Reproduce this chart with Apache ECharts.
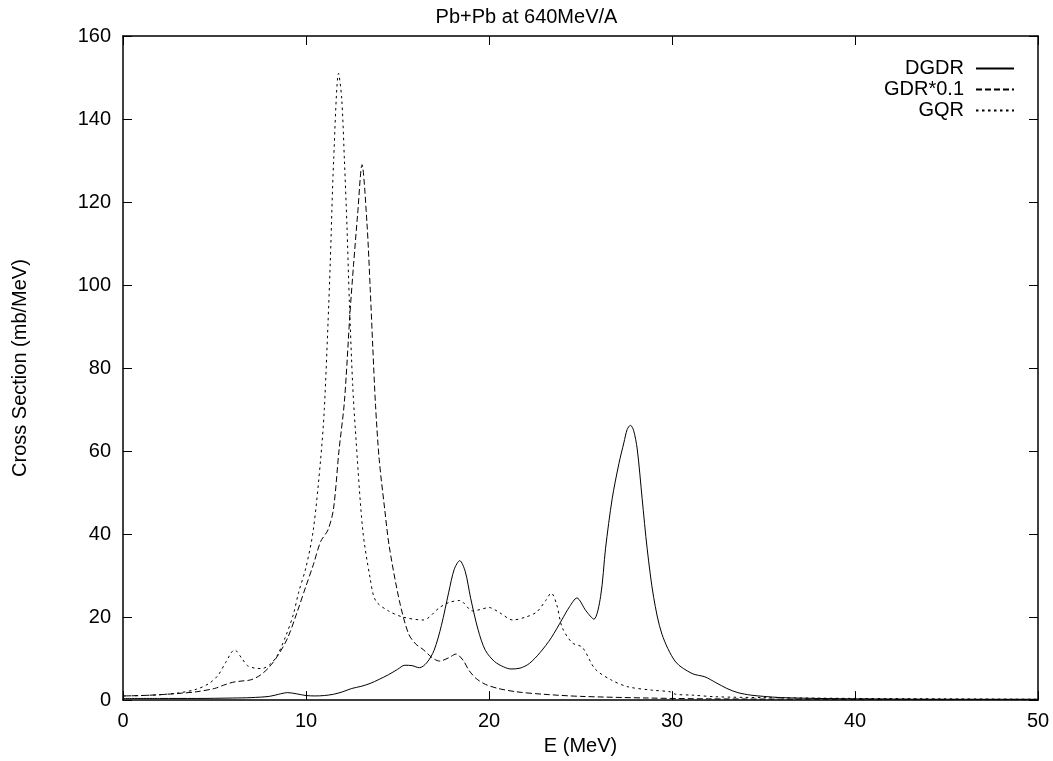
<!DOCTYPE html>
<html>
<head>
<meta charset="utf-8">
<script src="https://cdn.jsdelivr.net/npm/echarts@6/dist/echarts.min.js"></script>
<style>
html,body{margin:0;padding:0;background:#fff;}
#chart{width:1053px;height:761px;}
</style>
</head>
<body>
<div id="chart"></div>
<script>
var titleText = 'Pb+Pb at 640MeV/A';
var xName = 'E (MeV)';
var yName = 'Cross Section (mb/MeV)';
var seriesNames = ['DGDR', 'GDR*0.1', 'GQR'];

var dgdrE = [0,2,4,6,7,8,8.5,9,9.5,10,10.5,11,11.5,12,12.5,13,13.5,14,14.5,15,15.4,15.8,16.2,16.6,17,17.4,17.8,18.1,18.4,18.7,19,19.4,19.8,20.3,20.8,21.2,21.7,22.2,22.8,23.4,24,24.4,24.8,25.3,25.73,26.1,26.37,26.73,27.1,27.37,27.55,27.73,27.9,28.1,28.37,28.64,29.0,29.45,30.2,31.1,31.8,32.4,33,33.6,34.3,35,36,38,40,45,50];
var dgdrV = [0.4,0.4,0.4,0.5,0.6,0.9,1.4,1.8,1.5,1.1,1.0,1.1,1.4,2.0,2.8,3.3,4.0,5.0,6.1,7.4,8.4,8.3,7.8,9.0,12,18,26,31.5,33.6,31,24.5,17,12,9.3,8.0,7.5,7.7,8.8,11.5,15,19.5,22.5,24.6,21.5,19.5,25,36.6,48.5,57,62,65.2,66.2,65,60.5,48.5,36.6,24.7,15.9,9.2,6.4,5.6,4.2,2.8,1.8,1.2,0.9,0.6,0.4,0.3,0.2,0.2];

var gdrE = [0,1,2,3,4,5,5.5,6,6.5,7,7.5,8,8.5,9,9.5,10,10.4,10.8,11.2,11.5,11.8,12.1,12.4,12.6,12.82,13.06,13.33,13.51,13.65,13.8,14.0,14.3,14.55,15.1,15.6,16,16.4,16.9,17.3,17.8,18.2,18.6,18.9,19.3,19.8,20.5,21.5,23,25,28.7,32,40,50];
var gdrV = [1.0,1.1,1.3,1.6,2.0,2.8,3.6,4.3,4.6,4.9,6.0,8.0,11,15,21,27.5,32.6,38.2,41,46,60,72,93,105,117,129,115,99,85,71,58,46,37,24,16,13.5,12.2,10.2,9.4,10.2,11.1,9.5,7.2,5.2,3.8,2.8,2.0,1.4,0.9,0.5,0.3,0.2,0.1];

var gqrE = [0,1,2,3,4,4.7,5.2,5.6,6.1,6.5,6.8,7.2,7.6,8.0,8.4,8.9,9.3,9.6,10,10.4,10.8,11.0,11.24,11.33,11.51,11.78,11.95,12.1,12.24,12.37,12.55,12.7,13.1,13.5,13.8,14.5,15.3,16.4,17.3,17.8,18.4,19.1,19.5,20,20.6,21.3,22,22.6,23.1,23.4,23.7,24,24.55,25.1,25.8,26.7,27.6,28.9,29.9,30.2,31.1,32.4,35,40,45,50];
var gqrV = [1.0,1.1,1.3,1.7,2.6,4.0,6.0,9.0,12.1,10.0,8.3,7.7,7.6,8.5,10.5,15.5,20.5,26,32,41,58,70,95,106,130,151,145,130,114,96,76,65,41,29.5,24,21.5,20,19.3,22.3,23.5,24,21.5,21.8,22.3,21.0,19.3,20,21.2,24,25.8,23,17.5,13.8,12.7,7.5,4.8,3.2,2.4,2.0,1.4,1.2,0.8,0.6,0.4,0.3,0.2];

var xTicks = {min:0, max:50, interval:10};
var yTicks = {min:0, max:160, interval:20};

function pairs(xs, ys){ return xs.map(function(x,i){ return [x, ys[i]]; }); }

var FONT = '"Liberation Sans", Arial, sans-serif';
var chart = echarts.init(document.getElementById('chart'), null, {renderer:'canvas'});

function axisCommon(show){
  return {
    axisLine:{show:true, onZero:false, lineStyle:{color:'#000', width:1.5}},
    axisTick:{show:true, inside:true, length:9, lineStyle:{color:'#000', width:1}},
    splitLine:{show:false},
    axisLabel:{show:show, color:'#000', fontSize:20, fontFamily:FONT}
  };
}

var lineStyles = [
  {color:'#000', width:1, type:'solid'},
  {color:'#000', width:1, type:[6,3]},
  {color:'#000', width:1, type:[2.5,3.5]}
];
var datas = [pairs(dgdrE,dgdrV), pairs(gdrE,gdrV), pairs(gqrE,gqrV)];

var option = {
  animation:false,
  backgroundColor:'#fff',
  title:{text:titleText, left:'center', top:2, textStyle:{color:'#000', fontSize:20, fontWeight:'normal', fontFamily:FONT}},
  grid:{left:123, right:15, top:36, bottom:54, containLabel:false},
  legend:{
    orient:'vertical', right:33, top:53, align:'right', itemGap:0,
    itemWidth:38, itemHeight:10,
    itemStyle:{opacity:0},
    textStyle:{color:'#000', fontSize:20, fontFamily:FONT, lineHeight:21, padding:[0,7,0,0]},
    data:seriesNames
  },
  xAxis:[
    Object.assign({type:'value', position:'bottom', min:xTicks.min, max:xTicks.max, interval:xTicks.interval,
      name:xName, nameLocation:'middle', nameGap:28,
      nameTextStyle:{color:'#000', fontSize:20, fontFamily:FONT}}, axisCommon(true),
      {axisLabel:{show:true, color:'#000', fontSize:20, fontFamily:FONT, margin:11}}),
    Object.assign({type:'value', position:'top', min:xTicks.min, max:xTicks.max, interval:xTicks.interval}, axisCommon(false))
  ],
  yAxis:[
    Object.assign({type:'value', position:'left', min:yTicks.min, max:yTicks.max, interval:yTicks.interval,
      name:yName, nameLocation:'middle', nameGap:93,
      nameTextStyle:{color:'#000', fontSize:20, fontFamily:FONT}}, axisCommon(true),
      {axisLabel:{show:true, color:'#000', fontSize:20, fontFamily:FONT, margin:12}}),
    Object.assign({type:'value', position:'right', min:yTicks.min, max:yTicks.max, interval:yTicks.interval}, axisCommon(false))
  ],
  series: seriesNames.map(function(n,i){
    return {
      name:n, type:'line', data:datas[i], xAxisIndex:0, yAxisIndex:0,
      showSymbol:false, symbol:'none', smooth:0.3,
      lineStyle:lineStyles[i], itemStyle:{color:'#000'}, clip:true, z:3
    };
  })
};
chart.setOption(option);
</script>
</body>
</html>
